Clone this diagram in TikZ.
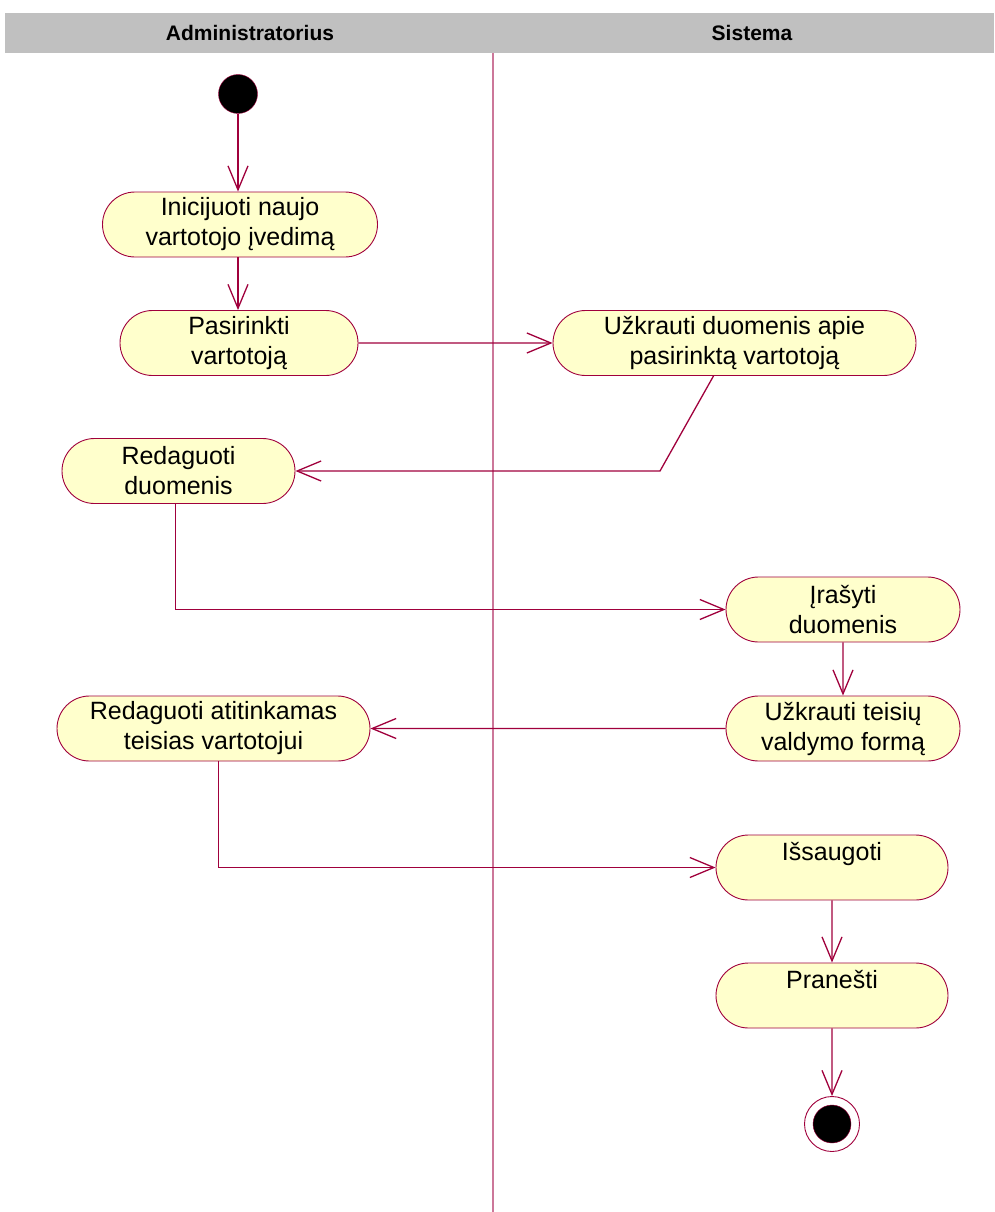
\documentclass[tikz,border=0pt]{standalone}
\usepackage{fontspec}
\setmainfont{Liberation Sans}
\usetikzlibrary{shapes.misc, arrows.meta}

\definecolor{umlline}{HTML}{A0003C}
\definecolor{umlfill}{HTML}{FFFFCC}
\definecolor{lanegray}{HTML}{C0C0C0}
\definecolor{laneline}{HTML}{CC7799}

\begin{document}
\begin{tikzpicture}[x=1pt, y=-1pt, every node/.style={inner sep=0pt},
	activity/.style={rounded rectangle, draw=umlline, fill=umlfill, line width=0.9pt,
		minimum height=65pt, align=center, font=\fontsize{25}{30}\selectfont},
	oneline/.style={text height=18pt, text depth=33pt},
	flow/.style={draw=umlline, line width=1.3pt, -{Straight Barb[length=24pt, width=20pt]}},
	lanehead/.style={font=\bfseries\fontsize{21}{25}\selectfont},]

\useasboundingbox (0,0) rectangle (994,1212);

% swimlanes
\fill[lanegray] (5,13) rectangle (994,53);
\node[lanehead] (admin) at (250,33) {Administratorius};
\node[lanehead] (sys) at (752,33) {Sistema};
\draw[laneline, line width=1.2pt] (493,53) -- (493,1212);

% activities
\node[circle, fill=black, draw=umlline, minimum size=39pt] (start) at (238,94) {};
\node[activity, minimum width=275pt] (init) at (240,224.5) {Inicijuoti naujo\\vartotojo įvedimą};
\node[activity, minimum width=238pt] (pick) at (239,343) {Pasirinkti\\vartotoją};
\node[activity, minimum width=363pt] (load) at (734.5,343) {Užkrauti duomenis apie\\pasirinktą vartotoją};
\node[activity, minimum width=233pt] (edit) at (178.5,471) {Redaguoti\\duomenis};
\node[activity, minimum width=234pt] (write) at (843,609.5) {Įrašyti\\duomenis};
\node[activity, minimum width=234pt] (form) at (843,728.5) {Užkrauti teisių\\valdymo formą};
\node[activity, minimum width=313pt] (rights) at (213.5,728.5) {Redaguoti atitinkamas\\teisias vartotojui};
\node[activity, oneline, minimum width=232pt] (keep) at (832,867.5) {Išsaugoti};
\node[activity, oneline, minimum width=232pt] (notify) at (832,995.5) {Pranešti};
\node[circle, draw=umlline, fill=white, line width=0.9pt, minimum size=55pt] (stop) at (832,1124) {};
\node[circle, fill=black, draw=umlline, minimum size=38pt] (stopdot) at (stop) {};

% transitions
\coordinate (bend) at (660,471);
\draw[flow] (start) -- (start |- init.north);
\draw[flow] (start |- init.south) -- (start |- pick.north);
\draw[flow] (pick) -- (load);
\draw[flow] ([xshift=-21pt]load.south) -- (bend) -- (edit.east);
\draw[flow] ([xshift=-3pt]edit.south) |- (write.west);
\draw[flow] (write) -- (form);
\draw[flow] (form) -- (rights);
\draw[flow] ([xshift=5pt]rights.south) |- (keep.west);
\draw[flow] (keep) -- (notify);
\draw[flow] (notify) -- (stop);
\end{tikzpicture}
\end{document}
